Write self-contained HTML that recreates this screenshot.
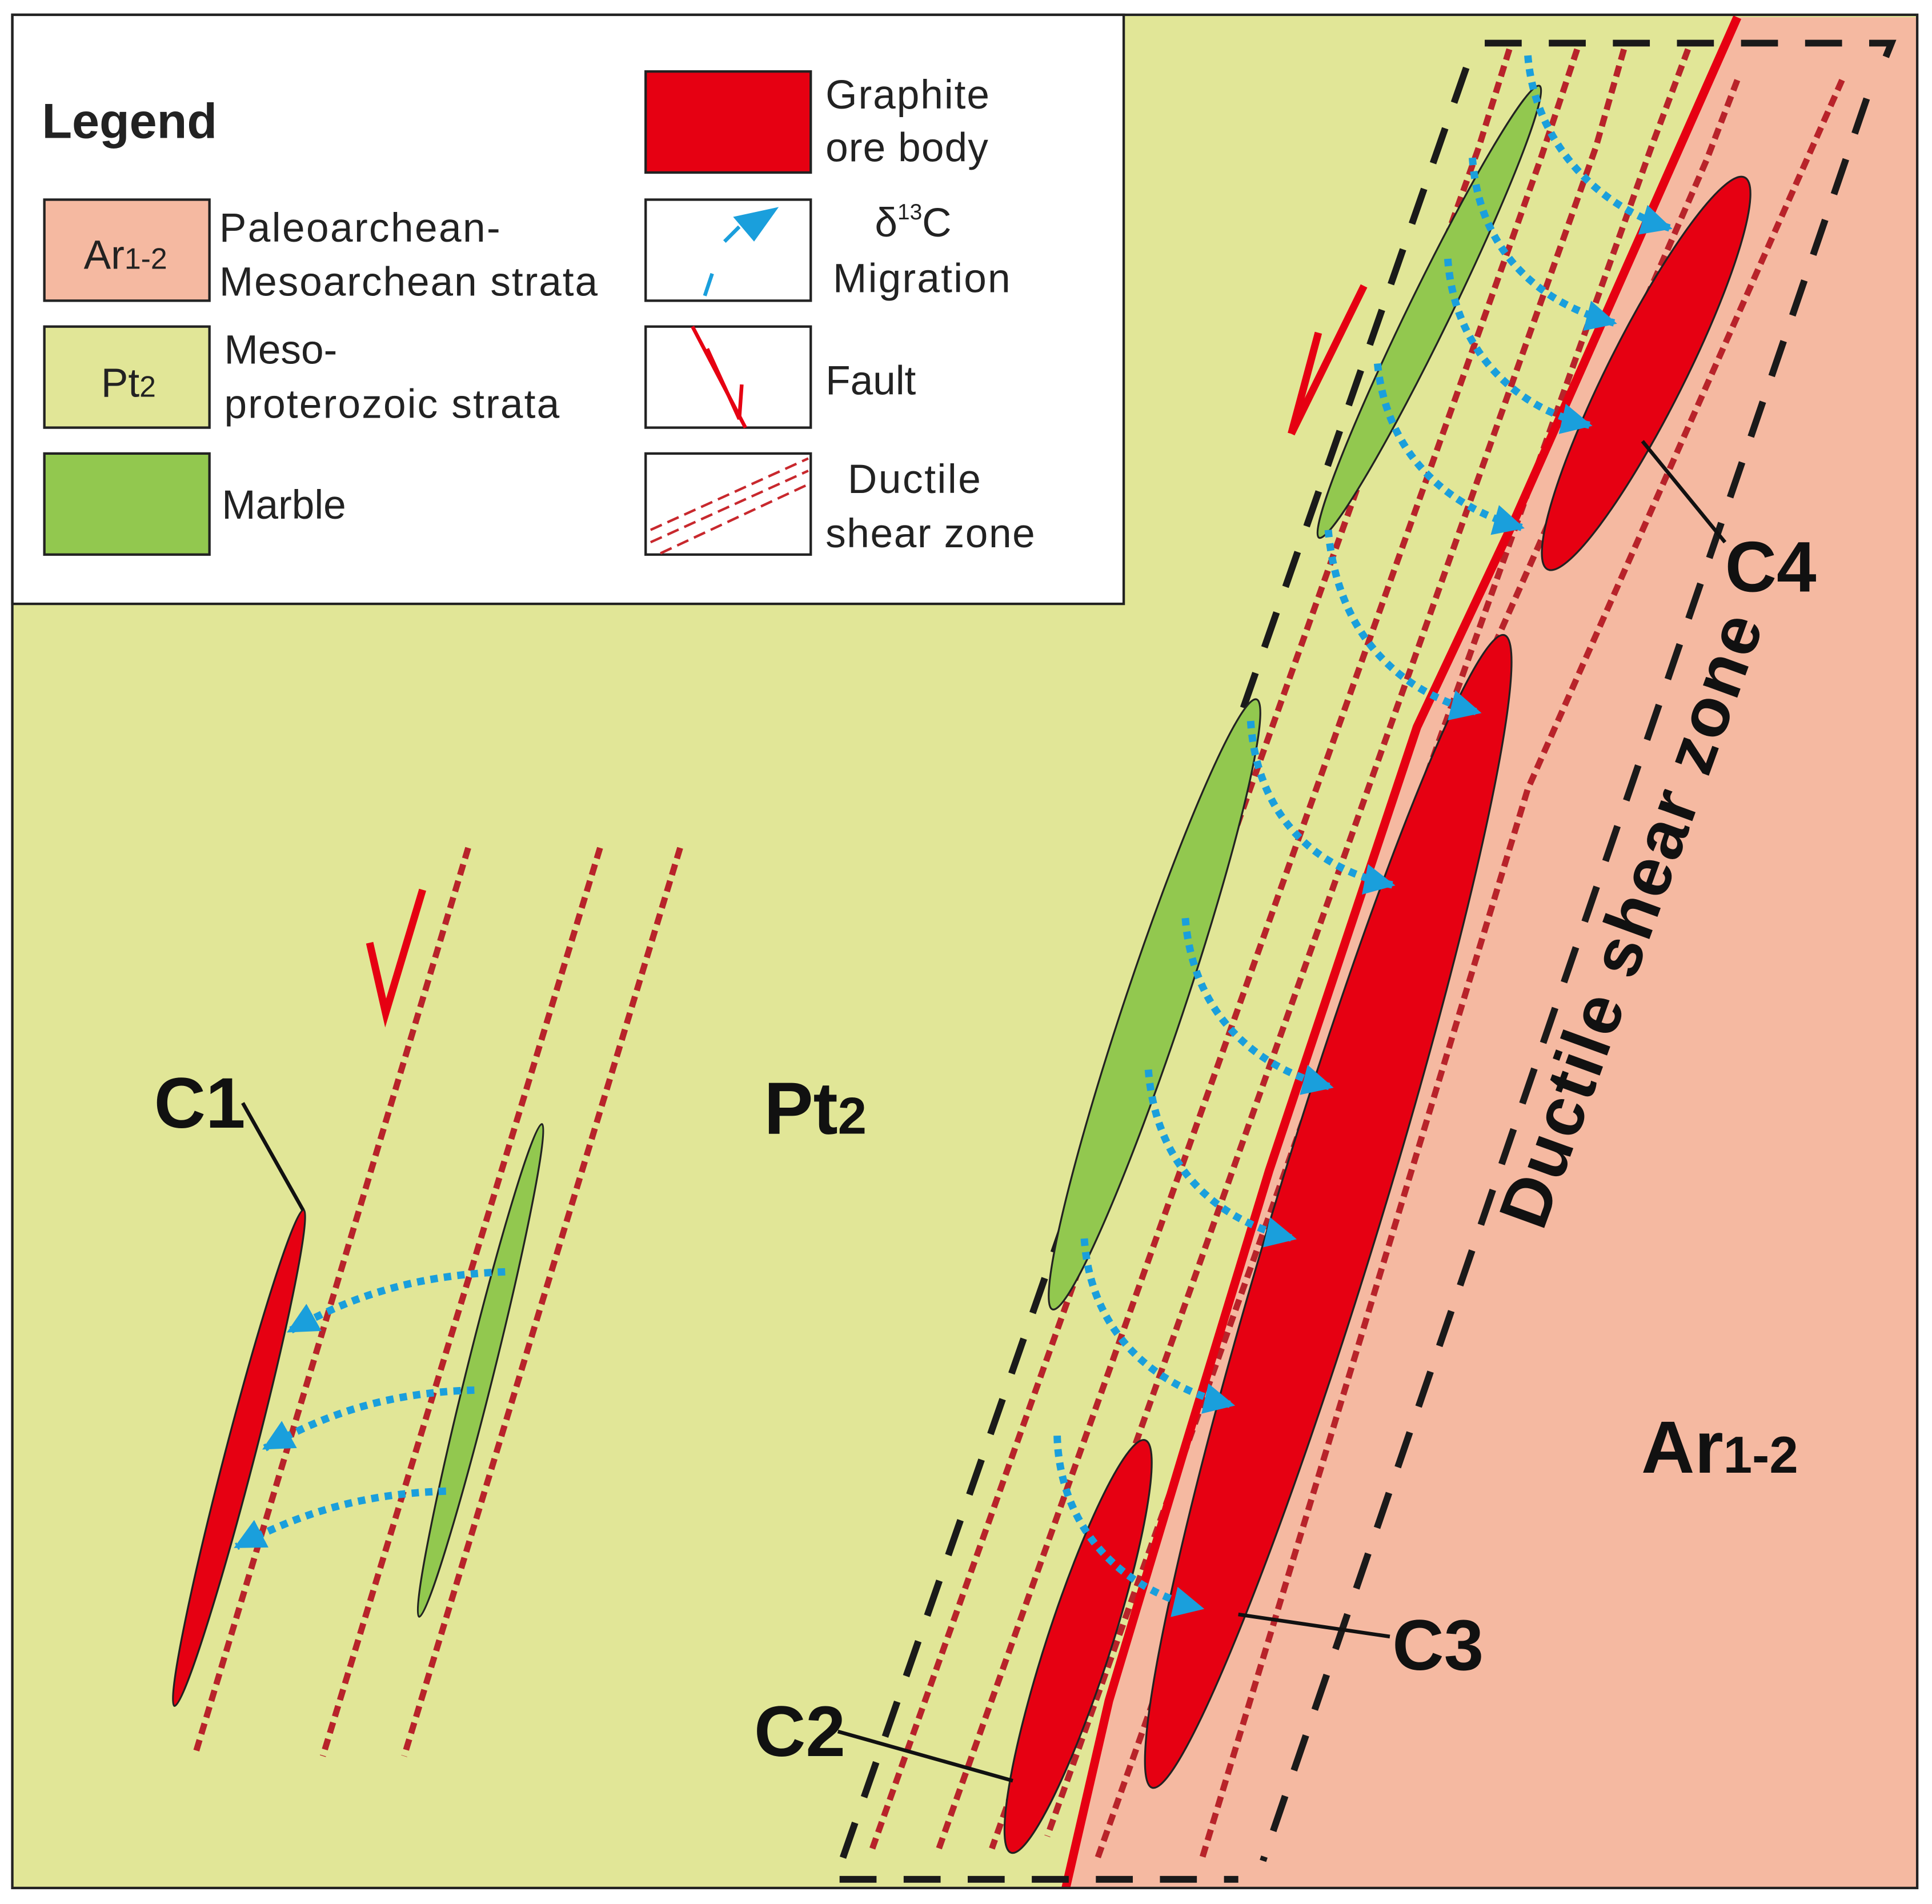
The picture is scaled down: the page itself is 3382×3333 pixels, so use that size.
<!DOCTYPE html>
<html><head><meta charset="utf-8"><style>
html,body{margin:0;padding:0;background:#fff}
svg{display:block}
text{font-family:"Liberation Sans",sans-serif}
</style></head><body>
<svg width="3382" height="3333" viewBox="0 0 1568 1545" preserveAspectRatio="none" xmlns="http://www.w3.org/2000/svg">
<defs>
<marker id="ah" viewBox="0 0 10 10" refX="9" refY="5" markerWidth="4.2" markerHeight="4.2" orient="auto" markerUnits="strokeWidth">
<path d="M0,0 L10,5 L0,10 z" fill="#1a9fdc"/></marker>
</defs>
<rect x="10" y="12" width="1546" height="1520" fill="#e1e697"/>
<path d="M1410,14 L1556,14 L1556,1532 L865,1532 L900,1380 L960,1180 L1030,950 L1100,740 L1150,590 L1230,420 Z" fill="#f5b9a1"/>
<g stroke="#b8232a" stroke-width="5" fill="none" stroke-dasharray="9 5">
<path d="M380,688 L158,1425"/><path d="M487,688 L262,1425"/><path d="M552,688 L328,1425"/>
<path d="M1225,40 L1200,120 L708,1500"/>
<path d="M1280,40 L1250,130 L762,1500"/>
<path d="M1318,40 L1295,120 L805,1500"/>
<path d="M1370,40 L1340,120 L850,1490"/>
<path d="M1410,65 L1385,130 L1250,440 L1170,620 L1000,1200 L890,1510"/>
<path d="M1495,65 L1240,640 L975,1510"/>
</g>
<path d="M1410,14 L1230,420 L1150,590 L1100,740 L1030,950 L960,1180 L900,1380 L865,1532" stroke="#e60012" stroke-width="7" fill="none"/>
<g stroke="#1a1a1a" stroke-width="5.5" fill="none" stroke-dasharray="30 22">
<path d="M1205,35 L1535,35 L1525,60"/>
<path d="M1190,55 L678,1525 L1005,1525"/>
<path d="M1515,80 L1025,1510"/>
</g>
<g fill="#92c84f" stroke="#222" stroke-width="1.5">
<ellipse cx="390" cy="1112" rx="206" ry="11" transform="rotate(104 390 1112)"/>
<ellipse cx="1160" cy="253" rx="204" ry="17" transform="rotate(116 1160 253)"/>
<ellipse cx="937" cy="815" rx="261" ry="24" transform="rotate(108.5 937 815)"/>
</g>
<g fill="#e60012" stroke="#222" stroke-width="1.5">
<ellipse cx="194" cy="1183" rx="208" ry="12" transform="rotate(104.6 194 1183)"/>
<ellipse cx="1336" cy="303" rx="178" ry="31" transform="rotate(116.7 1336 303)"/>
<ellipse cx="1078" cy="983" rx="489" ry="43" transform="rotate(107 1078 983)"/>
<ellipse cx="875" cy="1336" rx="176" ry="26" transform="rotate(108 875 1336)"/>
</g>
<g stroke="#111" stroke-width="3">
<line x1="197" y1="895" x2="246" y2="982"/><line x1="680" y1="1405" x2="822" y2="1445"/>
<line x1="1005" y1="1310" x2="1128" y2="1328"/><line x1="1333" y1="358" x2="1400" y2="440"/>
</g>
<g stroke="#1a9fdc" stroke-width="6" fill="none" stroke-dasharray="6 5" marker-end="url(#ah)">
<path d="M1240,45 C1245,110 1290,165 1355,185"/>
<path d="M1195,128 C1200,200 1245,245 1310,262"/>
<path d="M1175,210 C1180,280 1225,330 1290,345"/>
<path d="M1118,295 C1125,365 1170,410 1235,428"/>
<path d="M1078,430 C1085,510 1130,560 1200,578"/>
<path d="M1015,585 C1020,660 1065,705 1130,718"/>
<path d="M962,745 C968,820 1015,865 1080,882"/>
<path d="M932,868 C938,945 985,990 1050,1005"/>
<path d="M880,1005 C885,1080 935,1125 1000,1140"/>
<path d="M858,1165 C860,1240 910,1290 975,1305"/>
<path d="M410,1032 C330,1035 280,1055 235,1080"/>
<path d="M385,1128 C310,1130 260,1150 215,1175"/>
<path d="M362,1210 C290,1212 240,1230 192,1255"/>
</g>
<g stroke="#e60012" stroke-width="6" fill="none">
<polyline points="300,765 313,822 343,722"/>
<line x1="1107" y1="232" x2="1048" y2="352"/>
<line x1="1070" y1="270" x2="1048" y2="352"/>
</g>
<g font-weight="bold" fill="#111">
<text x="125" y="915" font-size="58">C1</text>
<text x="612" y="1425" font-size="58">C2</text>
<text x="1130" y="1355" font-size="58">C3</text>
<text x="1400" y="480" font-size="58">C4</text>
<text x="620" y="920" font-size="60">Pt<tspan font-size="42">2</tspan></text>
<text x="1332" y="1195" font-size="60">Ar<tspan font-size="42">1-2</tspan></text>
<text x="0" y="0" font-size="56" textLength="525" transform="translate(1252,1000) rotate(-70)">Ductile shear zone</text>
</g>
<rect x="10" y="12" width="902" height="478" fill="#fff" stroke="#222" stroke-width="2"/>
<text x="34" y="112" font-size="40" font-weight="bold" fill="#222">Legend</text>
<g stroke="#222" stroke-width="2">
<rect x="36" y="162" width="134" height="82" fill="#f5b9a1"/>
<rect x="36" y="265" width="134" height="82" fill="#e1e697"/>
<rect x="36" y="368" width="134" height="82" fill="#92c84f"/>
<rect x="524" y="58" width="134" height="82" fill="#e60012"/>
<rect x="524" y="162" width="134" height="82" fill="#fff"/>
<rect x="524" y="265" width="134" height="82" fill="#fff"/>
<rect x="524" y="368" width="134" height="82" fill="#fff"/>
</g>
<g font-size="33" fill="#222">
<text x="68" y="218">Ar<tspan font-size="24">1-2</tspan></text>
<text x="82" y="322">Pt<tspan font-size="24">2</tspan></text>
<text x="178" y="196" textLength="228">Paleoarchean-</text>
<text x="178" y="240" textLength="307">Mesoarchean strata</text>
<text x="182" y="295">Meso-</text>
<text x="182" y="339" textLength="272">proterozoic strata</text>
<text x="180" y="421">Marble</text>
<text x="670" y="88" textLength="133">Graphite</text>
<text x="670" y="131" textLength="132">ore body</text>
<text x="710" y="192">δ<tspan font-size="18" dy="-14">13</tspan><tspan dy="14">C</tspan></text>
<text x="676" y="237" textLength="144">Migration</text>
<text x="670" y="320">Fault</text>
<text x="688" y="400" textLength="108">Ductile</text>
<text x="670" y="444" textLength="170">shear zone</text>
</g>
<g stroke="#1a9fdc" stroke-width="3" fill="none"><line x1="578" y1="222" x2="572" y2="240"/><line x1="588" y1="196" x2="600" y2="184"/></g>
<path d="M595,176 L632,168 L612,196 Z" fill="#1a9fdc"/>
<g stroke="#e60012" stroke-width="3" fill="none"><line x1="562" y1="265" x2="605" y2="347"/><polyline points="574,283 600,340 602,312"/></g>
<g stroke="#c8282d" stroke-width="2" fill="none" stroke-dasharray="10 5"><line x1="528" y1="430" x2="656" y2="372"/><line x1="528" y1="440" x2="656" y2="382"/><line x1="536" y1="449" x2="656" y2="393"/></g>
<rect x="10" y="12" width="1546" height="1520" fill="none" stroke="#222" stroke-width="2"/>
</svg>
</body></html>
